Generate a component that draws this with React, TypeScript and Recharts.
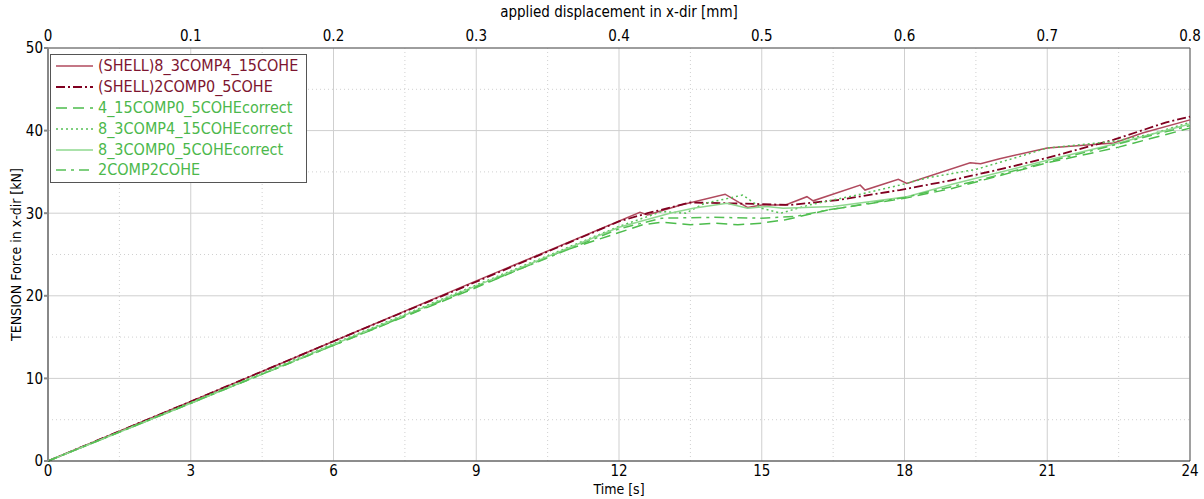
import React from "react";
import {
  LineChart,
  Line,
  XAxis,
  YAxis,
  CartesianGrid,
  ReferenceLine,
  Legend,
} from "recharts";

type P = { t: number; f: number };
const mk = (a: number[][]): P[] => a.map(([t, f]) => ({ t, f }));

// (SHELL)8_3COMP4_15COHE
const shell83 = mk([
  [0, 0], [3, 7.2], [6, 14.5], [9, 21.8], [12.44, 30.1], [12.6, 29.8], [13.3, 31.0],
  [14.23, 32.3], [14.7, 30.7], [15.0, 31.0], [15.5, 31.0], [15.95, 32.0], [16.08, 31.5],
  [17.07, 33.4], [17.17, 32.8], [17.87, 34.1], [18.05, 33.6], [19.38, 36.1], [19.6, 36.0],
  [20.0, 36.6], [21.0, 37.9], [22.4, 38.5], [23.0, 39.7], [24, 41.3],
]);
// (SHELL)2COMP0_5COHE
const shell2 = mk([
  [0, 0], [3, 7.2], [6, 14.5], [9, 21.7], [12, 29.0], [12.6, 30.0], [13.5, 31.3],
  [14.3, 31.2], [15.0, 31.1], [15.6, 31.0], [16.6, 31.6], [17.9, 32.8], [19.0, 34.0],
  [20.0, 35.3], [21.0, 36.7], [22.4, 38.9], [23.5, 41.0], [24, 41.7],
]);
// 4_15COMP0_5COHEcorrect
const c415 = mk([
  [0, 0], [3, 7.0], [6, 14.0], [9, 21.0], [10.76, 25.3], [12.5, 28.6], [12.9, 28.9],
  [13.5, 28.6], [14.0, 28.8], [14.5, 28.6], [15.0, 28.8], [15.5, 29.2], [16.4, 30.4],
  [18.0, 31.8], [19.0, 33.0], [21.0, 36.1], [22.5, 38.0], [24, 40.3],
]);
// 8_3COMP4_15COHEcorrect
const c83a = mk([
  [0, 0], [3, 7.1], [6, 14.2], [9, 21.3], [12, 28.4], [12.9, 30.2], [13.4, 30.0],
  [13.8, 31.2], [14.3, 31.8], [14.6, 32.2], [15.0, 30.6], [15.4, 30.0], [16.0, 31.0],
  [17.0, 32.2], [17.9, 33.4], [18.5, 34.3], [19.5, 35.3], [20.5, 37.0], [21.0, 37.9],
  [22.4, 38.7], [23.2, 39.6], [24, 41.0],
]);
// 8_3COMP0_5COHEcorrect
const c83b = mk([
  [0, 0], [3, 7.0], [6, 14.1], [9, 21.2], [12, 28.3], [13.07, 30.0], [13.56, 30.6],
  [14.27, 31.2], [14.7, 30.6], [15.1, 30.8], [15.45, 30.6], [16.5, 30.8], [18.05, 32.0],
  [19.0, 33.5], [21.0, 36.4], [22.5, 38.5], [24, 40.8],
]);
// 2COMP2COHE
const c22 = mk([
  [0, 0], [3, 7.0], [6, 14.0], [9, 21.1], [12, 28.1], [12.9, 29.4], [14, 29.5],
  [15, 29.4], [15.7, 29.6], [16.4, 30.4], [18, 31.9], [19.5, 33.9], [21, 36.2],
  [22.5, 38.4], [24, 40.6],
]);

const timeTicks = [0, 3, 6, 9, 12, 15, 18, 21, 24];
const timeMinor = [1.5, 4.5, 7.5, 10.5, 13.5, 16.5, 19.5, 22.5];
const dispTicks = [0, 0.1, 0.2, 0.3, 0.4, 0.5, 0.6, 0.7, 0.8];
const dispRange = [{ d: 0, f: 0 }, { d: 0.8, f: 0 }];
const forceTicks = [0, 10, 20, 30, 40, 50];
const forceMinor = [5, 15, 25, 35, 45];

const series = [
  { name: "(SHELL)8_3COMP4_15COHE", data: shell83, color: "#b04a5e", dash: undefined as string | undefined, text: "#7d1530", w: 1.5 },
  { name: "(SHELL)2COMP0_5COHE", data: shell2, color: "#800020", dash: "9 3 2 3", text: "#7d1530", w: 1.8 },
  { name: "4_15COMP0_5COHEcorrect", data: c415, color: "#4cbc4c", dash: "11 6", text: "#4cb84c", w: 1.5 },
  { name: "8_3COMP4_15COHEcorrect", data: c83a, color: "#55c055", dash: "2 3", text: "#4cb84c", w: 1.5 },
  { name: "8_3COMP0_5COHEcorrect", data: c83b, color: "#8fd88f", dash: undefined, text: "#4cb84c", w: 1.5 },
  { name: "2COMP2COHE", data: c22, color: "#55c055", dash: "10 5 3 5", text: "#4cb84c", w: 1.5 },
];

const FONT = "'Liberation Sans Narrow', 'Arial Narrow', 'DejaVu Sans Condensed', sans-serif";
const TICK_FS = 15;

const LegendBox = () => (
  <div
    style={{
      border: "1px solid #555",
      background: "#fff",
      width: 257,
      height: 129,
      boxSizing: "border-box",
      padding: "1px 0 0 4px",
      fontFamily: FONT,
      fontSize: 16,
    }}
  >
    {series.map((s) => (
      <div key={s.name} style={{ display: "flex", alignItems: "center", height: 20.8, lineHeight: "20px" }}>
        <svg width={40} height={10} style={{ marginRight: 3, flex: "none" }}>
          <line x1={1} y1={5} x2={38} y2={5} stroke={s.color} strokeWidth={s.w} strokeDasharray={s.dash} />
        </svg>
        <span style={{ color: s.text, whiteSpace: "nowrap" }}>{s.name}</span>
      </div>
    ))}
  </div>
);

export default function App() {
  return (
    <div style={{ position: "absolute", left: 0, top: 0, width: 1204, height: 499, background: "#fff" }}>
      <LineChart
        width={1204}
        height={499}
        margin={{ top: 0, right: 14, bottom: 0, left: 0 }}
        style={{ fontFamily: FONT }}
      >
        <CartesianGrid stroke="#cfcfcf" strokeWidth={1} xAxisId="time" yAxisId="f" />
        {timeMinor.map((v) => (
          <ReferenceLine key={"tx" + v} x={v} xAxisId="time" yAxisId="f" stroke="#d0d0d0" strokeDasharray="1 3" />
        ))}
        {forceMinor.map((v) => (
          <ReferenceLine key={"fy" + v} y={v} xAxisId="time" yAxisId="f" stroke="#d0d0d0" strokeDasharray="1 3" />
        ))}
        <XAxis
          xAxisId="time"
          dataKey="t"
          type="number"
          domain={[0, 24]}
          ticks={timeTicks}
          allowDuplicatedCategory={false}
          height={38}
          tickSize={0}
          tickMargin={4}
          stroke="#333"
          tick={{ fill: "#000", fontSize: TICK_FS }}
          label={{ value: "Time [s]", position: "insideBottom", offset: 5, fill: "#000", fontSize: 14 }}
        />
        <XAxis
          xAxisId="disp"
          dataKey="d"
          orientation="top"
          type="number"
          domain={[0, 0.8]}
          ticks={dispTicks}
          allowDataOverflow
          height={48}
          tickSize={0}
          tickMargin={7}
          stroke="#555"
          tick={{ fill: "#000", fontSize: TICK_FS }}
          label={{ value: "applied displacement in x-dir [mm]", position: "insideTop", offset: 6, fill: "#000", fontSize: 15 }}
        />
        <YAxis
          yAxisId="f"
          type="number"
          domain={[0, 50]}
          ticks={forceTicks}
          width={48}
          tickSize={4}
          tickMargin={1}
          stroke="#888"
          strokeWidth={2}
          tick={{ fill: "#000", fontSize: TICK_FS }}
          label={{ value: "TENSION Force in x-dir [kN]", angle: -90, position: "insideLeft", offset: 16, fill: "#000", fontSize: 14, style: { textAnchor: "middle" } }}
        />
        <ReferenceLine x={24} xAxisId="time" yAxisId="f" stroke="#888" strokeWidth={1.5} />
        <Line
          xAxisId="disp"
          yAxisId="f"
          data={dispRange}
          dataKey="f"
          stroke="none"
          dot={false}
          activeDot={false}
          legendType="none"
          isAnimationActive={false}
        />
        {series.map((s) => (
          <Line
            key={s.name}
            xAxisId="time"
            yAxisId="f"
            data={s.data}
            dataKey="f"
            name={s.name}
            type="linear"
            stroke={s.color}
            strokeWidth={s.w}
            strokeDasharray={s.dash}
            dot={false}
            activeDot={false}
            isAnimationActive={false}
          />
        ))}
        <Legend
          layout="vertical"
          align="center"
          verticalAlign="middle"
          wrapperStyle={{ left: 50, top: 54, width: 257, height: 129 }}
          content={() => <LegendBox />}
        />
      </LineChart>
    </div>
  );
}
